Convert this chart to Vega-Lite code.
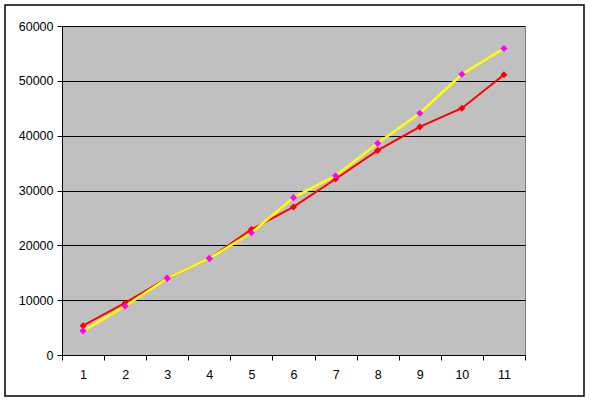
{
  "$schema": "https://vega.github.io/schema/vega-lite/v6.json",
  "width": 463,
  "height": 329,
  "autosize": "none",
  "padding": {"left": 62, "top": 26, "right": 66, "bottom": 46},
  "background": "white",
  "config": {
    "view": {"fill": "#C0C0C0", "stroke": "#808080", "strokeWidth": 1},
    "axis": {
      "labelFont": "Liberation Sans",
      "labelFontSize": 12.5,
      "labelColor": "black",
      "domainColor": "black",
      "tickColor": "black",
      "tickSize": 5,
      "title": null
    }
  },
  "datasets": {
    "frame": [{"a": 0, "b": 1}],
    "series": [
      {"x": 1, "series": "red", "value": 5350},
      {"x": 2, "series": "red", "value": 9500},
      {"x": 3, "series": "red", "value": 14000},
      {"x": 4, "series": "red", "value": 17600},
      {"x": 5, "series": "red", "value": 22900},
      {"x": 6, "series": "red", "value": 27000},
      {"x": 7, "series": "red", "value": 32100},
      {"x": 8, "series": "red", "value": 37300},
      {"x": 9, "series": "red", "value": 41600},
      {"x": 10, "series": "red", "value": 45000},
      {"x": 11, "series": "red", "value": 51100},
      {"x": 1, "series": "yellow", "value": 4400},
      {"x": 2, "series": "yellow", "value": 8900},
      {"x": 3, "series": "yellow", "value": 14000},
      {"x": 4, "series": "yellow", "value": 17600},
      {"x": 5, "series": "yellow", "value": 22300},
      {"x": 6, "series": "yellow", "value": 28700},
      {"x": 7, "series": "yellow", "value": 32700},
      {"x": 8, "series": "yellow", "value": 38600},
      {"x": 9, "series": "yellow", "value": 44100},
      {"x": 10, "series": "yellow", "value": 51200},
      {"x": 11, "series": "yellow", "value": 55900}
    ]
  },
  "layer": [
    {
      "data": {"name": "frame"},
      "mark": {"type": "rect", "fill": "transparent", "stroke": "black", "strokeWidth": 1.5},
      "encoding": {
        "x": {"field": "a", "type": "quantitative", "scale": {"domain": [0, 1], "range": [-57, 522]}, "axis": null},
        "x2": {"field": "b"},
        "y": {"field": "a", "type": "quantitative", "scale": {"domain": [0, 1], "range": [370, -21]}, "axis": null},
        "y2": {"field": "b"}
      }
    },
    {
      "data": {"name": "series"},
      "encoding": {
        "x": {
          "field": "x",
          "type": "quantitative",
          "scale": {"domain": [0.5, 11.5], "nice": false, "zero": false},
          "axis": {
            "values": [0.5, 1.5, 2.5, 3.5, 4.5, 5.5, 6.5, 7.5, 8.5, 9.5, 10.5, 11.5],
            "labelExpr": "datum.value < 11 ? format(datum.value + 0.5, 'd') : ''",
            "labelOffset": 21.05,
            "labelPadding": 8,
            "labelFlush": false,
            "labelOverlap": false,
            "grid": false
          }
        },
        "y": {
          "field": "value",
          "type": "quantitative",
          "scale": {"domain": [0, 60000], "nice": false},
          "axis": {
            "values": [0, 10000, 20000, 30000, 40000, 50000, 60000],
            "format": "d",
            "grid": true,
            "gridColor": "black",
            "gridOpacity": 1,
            "gridWidth": 1,
            "labelPadding": 4
          }
        }
      },
      "layer": [
        {
          "transform": [{"filter": "datum.series === 'red'"}],
          "mark": {"type": "line", "color": "#FF0000", "strokeWidth": 2}
        },
        {
          "transform": [{"filter": "datum.series === 'red'"}],
          "mark": {"type": "point", "shape": "diamond", "filled": true, "color": "#FF0000", "opacity": 1, "size": 50}
        },
        {
          "transform": [{"filter": "datum.series === 'yellow'"}],
          "mark": {"type": "line", "color": "#FFFF00", "strokeWidth": 2.5}
        },
        {
          "transform": [{"filter": "datum.series === 'yellow'"}],
          "mark": {"type": "point", "shape": "diamond", "filled": true, "color": "#FF00FF", "opacity": 1, "size": 50}
        }
      ]
    }
  ],
  "resolve": {"scale": {"x": "independent", "y": "independent"}}
}
